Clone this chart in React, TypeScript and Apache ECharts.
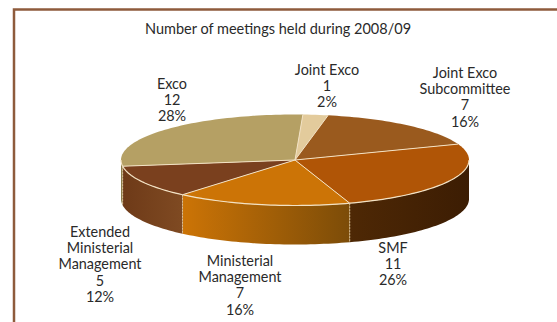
import React, { useEffect, useRef } from "react";
import * as echarts from "echarts";

// Meetings held per forum, clockwise from the top of the pie.
const categories = [
  "Joint Exco",
  "Joint Exco\nSubcommittee",
  "SMF",
  "Ministerial\nManagement",
  "Extended\nMinisterial\nManagement",
  "Exco",
];
const meetings = [1, 7, 11, 7, 5, 12];

const topColors = ["#E3CB9C", "#9A5A1E", "#B05506", "#CC7406", "#7A401E", "#B5A064"];
// Left and right shade of each slice's outer wall.
const wallColors = [
  ["#E3CB9C", "#E3CB9C"],
  ["#9A5A1E", "#9A5A1E"],
  ["#4E2805", "#3C1D03"],
  ["#CC7406", "#7C4C08"],
  ["#6E3A18", "#7F4A22"],
  ["#8A7A48", "#8A7A48"],
];
const labelCentres = [
  [327, 61],
  [465, 64],
  [393, 239],
  [240, 252],
  [100, 223],
  [172, 75],
];

const CX = 295;
const CY = 160;
const RX = 174;
const RY = 45.5;
const DEPTH = 39;
const START_DEG = 2.6;
const RIM = "#F3E2C4";

const total = meetings.reduce((a, b) => a + b, 0);
const rad = (d: number) => (d * Math.PI) / 180;
const px = (d: number) => CX + RX * Math.sin(rad(d));
const py = (d: number) => CY - RY * Math.cos(rad(d));

function arc(a: number, b: number, dy = 0) {
  const n = Math.max(2, Math.ceil(Math.abs(b - a) / 1.5));
  const pts: number[][] = [];
  for (let i = 0; i <= n; i++) {
    const d = a + ((b - a) * i) / n;
    pts.push([px(d), py(d) + dy]);
  }
  return pts;
}

function sliceSpan(index: number) {
  let before = 0;
  for (let i = 0; i < index; i++) before += meetings[i];
  const a = START_DEG + (before / total) * 360;
  return [a, a + (meetings[index] / total) * 360];
}

function renderSlice(params: any, api: any) {
  const i = params.dataIndex;
  const [a, b] = sliceSpan(i);
  const children: any[] = [];

  // Outer wall: only the front half of the rim can be seen.
  const wa = Math.max(a, 90);
  const wb = Math.min(b, 270);
  if (wb > wa) {
    children.push({
      type: "polygon",
      z2: 1,
      shape: { points: [...arc(wa, wb), ...arc(wb, wa, DEPTH)] },
      style: {
        fill: new echarts.graphic.LinearGradient(0, 0, 1, 0, [
          { offset: 0, color: wallColors[i][0] },
          { offset: 1, color: wallColors[i][1] },
        ]),
      },
    });
    // Seam between neighbouring walls.
    if (a >= 90 && a <= 270) {
      children.push({
        type: "line",
        z2: 2,
        shape: { x1: px(a), y1: py(a), x2: px(a), y2: py(a) + DEPTH },
        style: { stroke: "#D9BE94", lineWidth: 1, lineDash: [2, 1] },
      });
    }
  }

  // Top face of the slice, with a pale edge on its spokes.
  children.push({
    type: "polygon",
    z2: 3,
    shape: { points: [[CX, CY], ...arc(a, b)] },
    style: { fill: topColors[i] },
  });
  children.push({
    type: "polyline",
    z2: 4,
    shape: { points: [[CX, CY], [px(a), py(a)]] },
    style: { fill: "none", stroke: RIM, lineWidth: 1 },
  });
  // Front rim highlight.
  if (wb > wa) {
    children.push({
      type: "polyline",
      z2: 4,
      shape: { points: arc(wa, wb) },
      style: { fill: "none", stroke: RIM, lineWidth: 1.2 },
    });
  }

  // Forum name, count and share.
  const share = Math.round((meetings[i] / total) * 100);
  children.push({
    type: "text",
    z2: 5,
    style: {
      x: labelCentres[i][0],
      y: labelCentres[i][1],
      text: `${categories[i]}\n${api.value(0)}\n${share}%`,
      textAlign: "center",
      textVerticalAlign: "top",
      fill: "#2A2A2A",
      font: "14.4px Lato, sans-serif",
      lineHeight: 16.3,
    },
  });

  return { type: "group", children };
}

export default function App() {
  const ref = useRef<HTMLDivElement>(null);

  useEffect(() => {
    const chart = echarts.init(ref.current!, undefined, { renderer: "svg" });
    chart.setOption({
      animation: false,
      backgroundColor: "#FFFFFF",
      title: {
        text: "Number of meetings held during 2008/09",
        left: 140,
        top: 16,
        textStyle: {
          fontFamily: "Lato, sans-serif",
          fontSize: 14.5,
          fontWeight: "normal",
          color: "#2A2A2A",
        },
      },
      graphic: [
        {
          type: "polyline",
          shape: { points: [[557, 9.5], [14, 9.5], [14, 322]] },
          style: { fill: "none", stroke: "#8E5B3C", lineWidth: 2.5 },
        },
      ],
      series: [
        {
          type: "custom",
          coordinateSystem: "none",
          renderItem: renderSlice,
          data: meetings.map((m, i) => ({ value: [m], name: categories[i] })),
        },
      ],
    });
    return () => chart.dispose();
  }, []);

  return (
    <div
      ref={ref}
      style={{ position: "fixed", left: 0, top: 0, width: 557, height: 322 }}
    />
  );
}
